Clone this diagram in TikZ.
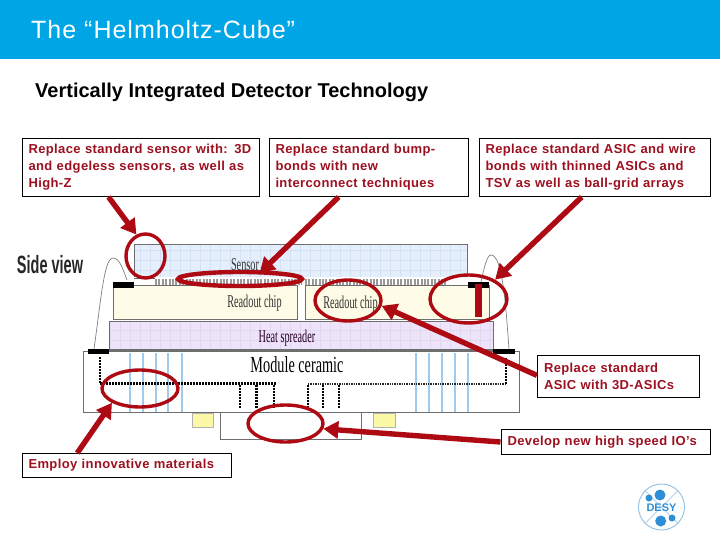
\documentclass[tikz,border=0pt]{standalone}
\usepackage{fontspec}
\usepackage{graphicx}
\setmainfont{Liberation Sans}
\newfontfamily\serifdiag{Liberation Serif}
\usetikzlibrary{arrows.meta,shapes.geometric,calc}
\definecolor{hdr}{HTML}{00A5E6}
\definecolor{markred}{HTML}{AE0A14}
\definecolor{txtred}{HTML}{9C1020}
\definecolor{edgegray}{HTML}{6E6E6E}
\definecolor{sensorfill}{HTML}{E4EFFB}
\definecolor{sensorgrid}{HTML}{D2E2F4}
\definecolor{chipfill}{HTML}{FEFCE6}
\definecolor{heatfill}{HTML}{EEE4FA}
\definecolor{heatgrid}{HTML}{E2D6F0}
\definecolor{viablue}{HTML}{9FCBEF}
\definecolor{padyellow}{HTML}{FBF8A6}
\definecolor{desyblue}{HTML}{2F8FD6}
\definecolor{desyring}{HTML}{8FC0E6}
\tikzset{
  noteline/.style={draw=black,line width=1pt,rectangle,anchor=north west,inner xsep=6.5pt,inner ysep=0pt,
    text=txtred,align=left,font=\fontsize{13}{17}\selectfont\bfseries\addfontfeature{LetterSpace=3}},
  ring/.style={draw=markred,line width=3.4pt,ellipse,inner sep=0pt,fill=none},
  pointer/.style={draw=markred,line width=5.4pt,-{Triangle[width=17pt,length=15pt]}},
  layer/.style={draw=edgegray,line width=1pt},
  wirebond/.style={draw=gray,line width=.7pt},
  via/.style={draw=viablue,line width=2pt},
  trace/.style={draw=black,line width=2.6pt,dash pattern=on 2pt off 1pt},
  tracethin/.style={draw=black!85,line width=1.6pt,dash pattern=on 1.4pt off 1pt},
  padblack/.style={fill=black,draw=none},
  padyel/.style={fill=padyellow,draw=black!30,line width=.8pt},
  serlabel/.style={text=black!80,font=\serifdiag\fontsize{18}{18}\selectfont,inner sep=0pt},
}
\begin{document}
\begin{tikzpicture}[x=1pt,y=-1pt]
\useasboundingbox (0,0) rectangle (720,540);
\fill[white] (0,0) rectangle (720,540);
% header
\fill[hdr] (0,0) rectangle (720,59);
\node[anchor=base west,inner sep=0pt,text=white,font=\fontsize{25}{25}\selectfont\addfontfeature{LetterSpace=4}] (title) at (31,38.5) {The “Helmholtz-Cube”};
\node[anchor=base west,inner sep=0pt,text=black,font=\fontsize{20}{20}\selectfont\bfseries] (subtitle) at (35,98) {Vertically Integrated Detector Technology};
% sensor
\fill[sensorfill] (134,244) rectangle (467,277);
\begin{scope}
\clip (134,244) rectangle (467,277);
\draw[sensorgrid,line width=.3pt,step=10pt] (134,244) grid (467,277);
\end{scope}
\draw[layer] (134,277) -- (134,244) -- (467,244) -- (467,277);
\node[serlabel] (sensorlabel) at (245,265) {\scalebox{.57}[1]{Sensor}};
% bump strip
\draw[draw=black!40,line width=6pt,dash pattern=on 2pt off 1.4pt] (155,281.5) -- (302,281.5);
\draw[draw=black!40,line width=6pt,dash pattern=on 2pt off 1.4pt] (305,281.5) -- (447,281.5);
\draw[black!60,line width=.8pt] (134,278) -- (155,278);
\draw[black!60,line width=.8pt] (134,285) -- (155,285);
% chips
\draw[layer,fill=chipfill] (113,285) rectangle (297.5,319);
\draw[layer,fill=chipfill] (305,285) rectangle (489,319);
\node[serlabel] (chipa) at (254.5,303) {\scalebox{.57}[1]{Readout chip}};
\node[serlabel] (chipb) at (350.5,304) {\scalebox{.57}[1]{Readout chip}};
% heat spreader
\fill[heatfill] (109,321) rectangle (493,349);
\begin{scope}
\clip (109,321) rectangle (493,349);
\draw[heatgrid,line width=.3pt,step=10pt] (109,321) grid (493,349);
\end{scope}
\draw[layer] (109,349) -- (109,321) -- (493,321) -- (493,349);
\node[serlabel,text=black!70!violet] (heatlabel) at (287,338) {\scalebox{.57}[1]{Heat spreader}};
% ceramic
\draw[layer,fill=white] (83.5,351) rectangle (519,412);
\draw[edgegray,line width=2.4pt] (109,350) -- (493,350);
\foreach \vx in {130,143,156,168,181.5,416,429,442,455,468}{
  \draw[via] (\vx,353) -- (\vx,412);
}
\node[serlabel,text=black,font=\serifdiag\fontsize{23}{23}\selectfont] (ceramiclabel) at (297,365) {\scalebox{.62}[1]{Module ceramic}};
% traces
\draw[trace] (100,357) -- (100,383.5);
\draw[trace,line width=3pt] (100,383.5) -- (276,383.5);
\foreach \vx in {240,256.5,274}{ \draw[trace] (\vx,385) -- (\vx,408); }
\foreach \vx in {308,323,339}{ \draw[trace] (\vx,385) -- (\vx,408); }
\draw[tracethin] (308,384) -- (507,384);
\draw[trace] (506,358) -- (506,384);
% pads
\fill[padblack] (113,282) rectangle (134,288);
\fill[padblack] (468,282) rectangle (489,288);
\fill[padblack] (88,349) rectangle (109,354);
\fill[padblack] (493,349) rectangle (515,354);
% wire bonds
\draw[wirebond] (94,349) .. controls (101,300) and (104,258) .. (113,258) .. controls (120,258) and (123,270) .. (127,280);
\draw[wirebond] (481,282) .. controls (484,268) and (487,255) .. (491,255) .. controls (503,255) and (506,310) .. (509,349);
% bottom
\draw[padyel] (192,413) rectangle (213,427);
\draw[padyel] (373,413) rectangle (395,427);
\draw[edgegray,line width=1pt] (220,412) -- (220,439) -- (361,439) -- (361,412);
% red TSV
\fill[markred] (475,284) rectangle (482,317);
% side view
\node[inner sep=0pt,text=black!85,font=\fontsize{25}{25}\selectfont\bfseries] (sideview) at (50,265) {\scalebox{.58}[1]{Side view}};
% note boxes
\node[noteline,minimum height=58pt,text width=224.5pt] (n1) at (21.5,138) {Replace standard sensor with: 3D\\and edgeless sensors, as well as\\High-Z};
\node[noteline,minimum height=58pt,text width=186.5pt] (n2) at (268.5,138) {Replace standard bump-\\bonds with new\\interconnect techniques};
\node[noteline,minimum height=58pt,text width=218pt] (n3) at (478.5,138) {Replace standard ASIC and wire\\bonds with thinned ASICs and\\TSV as well as ball-grid arrays};
\node[noteline,minimum height=41.5pt,text width=149pt] (n4) at (537,355) {Replace standard\\ASIC with 3D-ASICs};
\node[noteline,minimum height=25pt,text width=196.5pt] (n5) at (500.5,429) {Develop new high speed IO’s};
\node[noteline,minimum height=24pt,text width=196.5pt] (n6) at (21.5,453) {Employ innovative materials};
% rings
\node[ring,minimum width=39pt,minimum height=44pt] (e1) at (145.5,256) {};
\node[ring,line width=4.4pt,minimum width=124pt,minimum height=14pt] (e2) at (240,279) {};
\node[ring,minimum width=66pt,minimum height=41pt] (e3) at (348,300.5) {};
\node[ring,minimum width=77pt,minimum height=48pt] (e4) at (468.5,299) {};
\node[ring,minimum width=76pt,minimum height=37pt] (e5) at (140,388.5) {};
\node[ring,minimum width=75pt,minimum height=37pt] (e6) at (285.5,423.5) {};
% pointers
\draw[pointer] ($(n1.south west)!.365!(n1.south east)$) -- (e1.113);
\draw[pointer,shorten >=-4pt] ($(n2.south west)!.35!(n2.south east)$) -- (e2.21);
\draw[pointer] ($(n3.south west)!.445!(n3.south east)$) -- (e4.36);
\draw[pointer] ($(n4.south west)!.52!(n4.north west)$) -- (e3.-9);
\draw[pointer] (n5.west) -- (e6.-8);
\draw[pointer] ($(n6.north west)!.265!(n6.north east)$) -- (e5.207);
% DESY logo
\node[circle,draw=desyring,line width=.9pt,minimum size=46pt,inner sep=0pt] (desy) at (661.5,507) {};
\draw[desyring,line width=.6pt] (desy.45) -- (desy.225);
\draw[desyring,line width=.6pt] (desy.135) -- (desy.315);
\fill[desyblue] (660,495) circle (5.5pt);
\fill[desyblue] (649,498) circle (3.5pt);
\fill[desyblue] (660.7,521) circle (5.5pt);
\fill[desyblue] (672,518) circle (3.5pt);
\node[inner sep=0pt,text=desyblue,font=\fontsize{11}{11}\selectfont\bfseries] (desyname) at (661.5,508) {DESY};
\end{tikzpicture}
\end{document}
